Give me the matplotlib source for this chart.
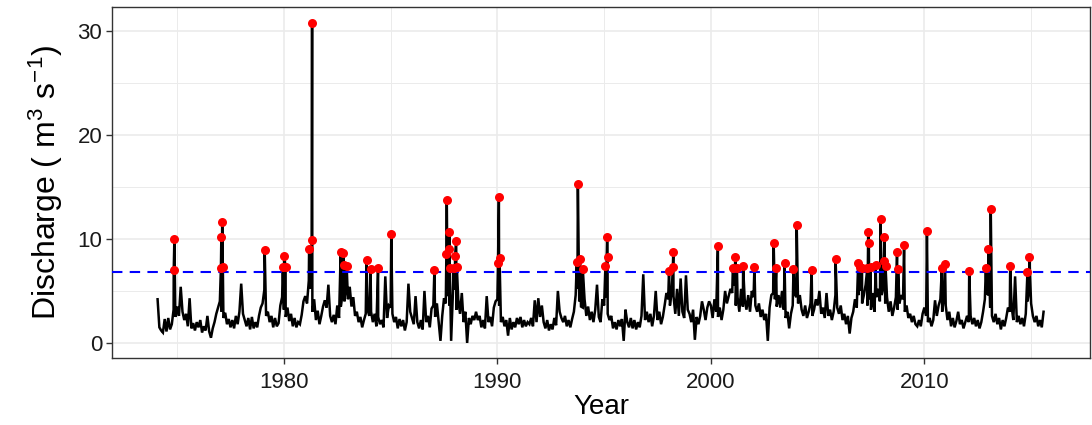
import numpy as np
import matplotlib
matplotlib.use("Agg")
import matplotlib.pyplot as plt
from matplotlib.ticker import MultipleLocator

plt.rcParams['font.family'] = ['Liberation Sans', 'DejaVu Sans']
plt.rcParams['mathtext.fontset'] = 'custom'
plt.rcParams['mathtext.rm'] = 'Liberation Sans'
plt.rcParams['mathtext.it'] = 'Liberation Sans:italic'

# monthly flow, first value is Feb 1974
START_YEAR = 1974 + 1 / 12
flow_monthly = [
    4.2, 1.5, 1.2, 1.0, 2.3, 1.1, 2.4, 1.3, 1.8, 3.2, 2.5,            # 1974
    3.5, 2.6, 5.4, 3.0, 2.2, 2.8, 1.6, 4.3, 1.4, 1.9, 1.2, 2.0,       # 1975
    1.5, 2.2, 1.0, 1.6, 1.2, 2.6, 1.1, 0.5, 1.4, 2.0, 2.8, 3.4,       # 1976
    4.0, 3.0, 2.4, 2.9, 1.8, 2.3, 1.5, 2.2, 1.4, 2.6, 1.8, 3.0,       # 1977
    5.7, 2.8, 2.2, 1.6, 2.4, 1.3, 2.5, 1.4, 2.0, 1.5, 2.6, 3.4,       # 1978
    3.8, 5.1, 2.6, 3.0, 2.0, 2.6, 1.5, 2.4, 1.6, 1.9, 3.6, 4.4,       # 1979
    3.2, 2.5, 3.4, 2.1, 2.8, 1.6, 2.4, 1.5, 2.0, 1.8, 2.7, 4.0,       # 1980
    4.5, 3.8, 6.0, 5.2, 3.0, 4.2, 2.2, 3.1, 1.8, 2.6, 3.5, 4.1,       # 1981
    3.4, 5.6, 2.6, 2.0, 2.7, 1.8, 3.6, 2.4, 3.5, 4.8, 4.0, 5.4,       # 1982
    4.2, 5.4, 3.5, 4.4, 2.6, 3.0, 2.0, 2.5, 1.5, 2.2, 2.8, 3.2,       # 1983
    2.6, 3.0, 2.0, 2.8, 1.6, 2.5, 1.8, 2.2, 1.5, 6.4, 2.4, 3.6,       # 1984
    3.4, 2.8, 2.0, 2.5, 1.4, 2.3, 1.6, 2.2, 1.2, 2.0, 5.7, 3.0,       # 1985
    2.4, 1.8, 4.5, 2.0, 1.4, 2.2, 1.3, 5.0, 2.0, 2.6, 1.5, 3.3,       # 1986
    3.6, 2.5, 3.8, 2.0, 0.2, 2.6, 4.3, 3.8, 4.5, 3.6, 0.2, 4.8,       # 1987
    5.1, 3.2, 4.2, 2.8, 4.8, 2.0, 3.0, 0.0, 2.4, 1.8, 2.6, 2.2,       # 1988
    3.0, 2.2, 2.6, 1.5, 2.2, 1.4, 4.5, 2.0, 2.5, 1.6, 3.4, 4.0,       # 1989
    4.2, 3.6, 2.0, 2.5, 1.6, 2.2, 0.7, 2.4, 1.3, 2.0, 1.5, 2.4,       # 1990
    1.8, 2.5, 1.5, 2.2, 1.6, 2.0, 1.8, 2.4, 1.6, 4.1, 2.0, 4.3,       # 1991
    2.5, 3.6, 2.0, 1.4, 2.2, 1.2, 1.8, 1.3, 2.4, 1.7, 5.0, 3.0,       # 1992
    2.4, 2.0, 2.6, 1.6, 2.2, 1.5, 2.3, 3.0, 4.6, 5.2, 4.0, 3.5,       # 1993
    3.4, 4.2, 2.6, 3.5, 2.2, 3.0, 2.0, 3.2, 5.6, 2.5, 2.0, 4.2,       # 1994
    3.6, 4.4, 2.8, 2.2, 2.6, 1.4, 2.0, 1.3, 2.2, 1.6, 2.3, 0.2,       # 1995
    3.2, 2.0, 1.5, 2.4, 1.4, 2.2, 1.3, 2.0, 1.5, 2.6, 6.6, 2.2,       # 1996
    3.0, 2.0, 2.8, 1.6, 2.6, 5.0, 2.2, 3.0, 1.8, 2.5, 3.6, 4.8,       # 1997
    4.2, 3.6, 5.0, 4.5, 2.8, 5.2, 2.6, 6.2, 3.0, 2.4, 6.5, 3.2,       # 1998
    2.8, 2.0, 3.2, 0.3, 2.5, 1.8, 2.6, 4.0, 3.2, 2.2, 3.4, 4.0,       # 1999
    3.6, 2.4, 4.2, 3.0, 2.5, 3.4, 2.2, 3.2, 5.0, 3.8, 4.5, 5.2,       # 2000
    4.8, 5.5, 3.6, 4.4, 3.0, 5.2, 3.5, 4.2, 3.2, 4.6, 3.0, 5.0,       # 2001
    4.4, 3.6, 3.0, 3.8, 2.5, 3.2, 2.2, 2.8, 0.2, 3.4, 4.6, 4.8,       # 2002
    4.2, 3.5, 4.6, 3.4, 5.0, 3.2, 2.4, 3.0, 1.4, 2.8, 3.6, 4.8,       # 2003
    4.4, 3.8, 4.6, 3.2, 2.6, 3.6, 2.4, 3.0, 3.8, 2.6, 3.2, 4.2,       # 2004
    3.6, 5.0, 2.8, 3.4, 2.4, 4.8, 2.6, 3.2, 2.2, 3.0, 4.6, 3.4,       # 2005
    2.8, 3.6, 2.2, 2.8, 1.8, 2.6, 0.9, 2.4, 3.0, 4.2, 3.4, 4.6,       # 2006
    5.0, 3.8, 4.6, 5.6, 3.6, 4.2, 3.2, 4.8, 3.0, 4.4, 5.2, 4.0,       # 2007
    4.6, 5.4, 3.8, 4.4, 3.0, 4.0, 2.6, 3.4, 4.4, 3.2, 3.8, 4.6,       # 2008
    4.2, 3.0, 3.6, 2.4, 2.8, 2.0, 2.6, 1.8, 1.6, 2.2, 1.6, 2.8,       # 2009
    3.4, 2.6, 2.0, 2.4, 1.6, 2.2, 4.1, 2.6, 3.6, 4.2, 3.0, 4.4,       # 2010
    3.6, 2.2, 3.0, 1.6, 2.4, 1.5, 2.1, 3.0, 1.8, 2.2, 1.4, 2.0,       # 2011
    2.6, 2.0, 2.6, 1.8, 2.4, 1.6, 2.2, 1.4, 2.0, 3.0, 4.2, 4.8,       # 2012
    4.6, 3.4, 2.6, 2.0, 2.8, 1.8, 2.4, 1.3, 2.2, 1.6, 2.4, 3.4,       # 2013
    3.0, 3.6, 2.2, 6.4, 2.0, 2.6, 1.8, 2.4, 1.6, 2.8, 4.0, 5.2,       # 2014
    3.8, 2.6, 2.0, 2.6, 1.6, 2.2, 1.5, 3.0,                           # 2015
]

# flows above the threshold (red points)
peak_year = [
    1974.84, 1974.87, 1977.05, 1977.07, 1977.11, 1977.14, 1979.10,
    1979.95, 1980.01, 1980.08, 1981.18, 1981.30, 1981.32,
    1982.66, 1982.78, 1982.81, 1982.94, 1983.87, 1984.06, 1984.41,
    1985.03, 1987.05, 1987.61, 1987.63, 1987.73, 1987.75, 1987.77,
    1987.95, 1988.02, 1988.07, 1988.10, 1990.03, 1990.07, 1990.10,
    1993.72, 1993.77, 1993.87, 1994.00, 1995.06, 1995.14, 1995.16,
    1998.04, 1998.22, 1998.24, 2000.33, 2001.03, 2001.15, 2001.22,
    2001.51, 2002.04, 2002.94, 2003.06, 2003.45, 2003.87, 2004.02,
    2004.72, 2005.84, 2006.90, 2006.99, 2007.08, 2007.33, 2007.37,
    2007.40, 2007.48, 2007.72, 2007.95, 2008.11, 2008.13, 2008.18,
    2008.72, 2008.77, 2009.05, 2010.12, 2010.82, 2010.97, 2012.10,
    2012.88, 2013.00, 2013.11, 2014.02, 2014.83, 2014.92,
]
peak_q = [
    7.0, 10.0, 7.2, 10.16, 11.66, 7.3, 8.97,
    7.34, 8.37, 7.34, 9.0, 9.9, 30.77,
    8.78, 8.68, 7.5, 7.4, 8.0, 7.08, 7.18,
    10.45, 7.02, 8.53, 13.75, 9.04, 10.64, 7.24,
    7.24, 8.37, 9.84, 7.34, 7.66, 14.07, 8.2,
    7.82, 15.26, 8.05, 7.08, 7.4, 10.16, 8.3,
    6.95, 7.34, 8.78, 9.36, 7.24, 8.3, 7.18,
    7.4, 7.34, 9.65, 7.18, 7.72, 7.08, 11.35,
    7.02, 8.08, 7.72, 7.28, 7.22, 7.24, 10.67,
    9.65, 7.34, 7.5, 11.89, 7.88, 10.22, 7.4,
    8.72, 7.08, 9.42, 10.77, 7.18, 7.6, 6.92,
    7.18, 9.0, 12.85, 7.4, 6.86, 8.24,
]

THRESHOLD = 6.8

base_year = START_YEAR + np.arange(len(flow_monthly)) / 12
t = np.concatenate([base_year, peak_year])
q = np.concatenate([flow_monthly, peak_q])
order = np.argsort(t, kind='stable')
t, q = t[order], q[order]

fig = plt.figure(figsize=(10.92, 4.25), dpi=100)
ax = fig.add_axes([0.1026, 0.1576, 0.8954, 0.8259])

ax.plot(t, q, color='black', lw=1.8, zorder=3, solid_joinstyle='miter')
ax.axhline(THRESHOLD, color='#0000FF', lw=1.5, ls=(0, (5, 3.5)), zorder=4)
ax.plot(peak_year, peak_q, 'o', color='#FF0000', ms=6.5, mec='none', zorder=5)

ax.set_xlim(1971.95, 2017.75)
ax.set_ylim(-1.45, 32.3)
ax.xaxis.set_major_locator(MultipleLocator(10))
ax.xaxis.set_minor_locator(MultipleLocator(5))
ax.yaxis.set_major_locator(MultipleLocator(10))
ax.yaxis.set_minor_locator(MultipleLocator(5))

ax.grid(which='major', color='#EBEBEB', lw=1.2, zorder=0)
ax.grid(which='minor', color='#EBEBEB', lw=0.7, zorder=0)
ax.set_axisbelow(True)
for s in ax.spines.values():
    s.set_color('#333333')
    s.set_linewidth(1.0)
ax.tick_params(which='major', length=4, width=1, color='#333333',
               labelsize=16, labelcolor='#1A1A1A', pad=3)
ax.tick_params(axis='x', which='major', pad=6)
ax.tick_params(which='minor', length=0)

ax.set_xlabel('Year', fontsize=20, labelpad=1)
ax.set_ylabel(r'Discharge ( m$^{3}$ s$^{-1}$)', fontsize=23, labelpad=9)

fig.savefig('out.png', dpi=100)
